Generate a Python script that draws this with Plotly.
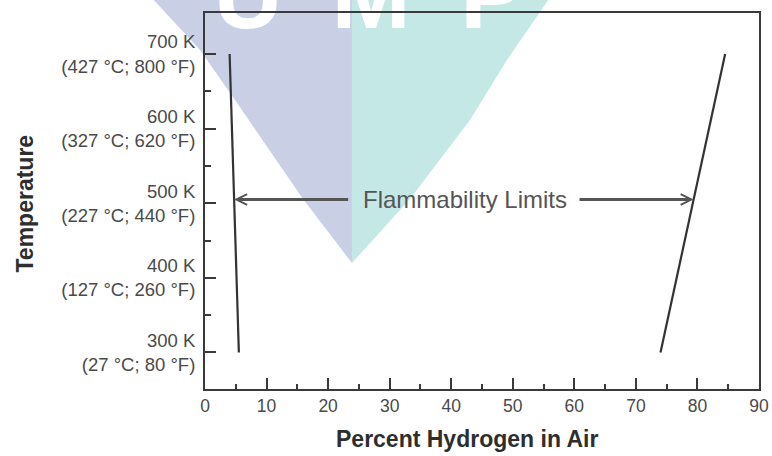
import numpy as np
import plotly.graph_objects as go

# Flammability limits of hydrogen in air (volume %) at two temperatures (K)
temp_k = [300, 700]
lower_limit_pct = [5.5, 4.0]
upper_limit_pct = [74.0, 84.5]

# Axis ticks
x_ticks = list(range(0, 100, 10))
x_minor = list(range(5, 90, 10))
y_ticks = [300, 400, 500, 600, 700]
y_minor = [350, 450, 550, 650]
y_tick_text = [
    "300 K<br>(27 °C; 80 °F)",
    "400 K<br>(127 °C; 260 °F)",
    "500 K<br>(227 °C; 440 °F)",
    "600 K<br>(327 °C; 620 °F)",
    "700 K<br>(427 °C; 800 °F)",
]

# Arrow annotation between the two limits
arrow_level = 505
left_tail, right_tail = 23.5, 60.6
label_x = 42.2
left_tip = float(np.interp(arrow_level, temp_k, lower_limit_pct))
right_tip = float(np.interp(arrow_level, temp_k, upper_limit_pct))

LINE = "#3a3a3a"
TEXT = "#4a4a4a"
FONT = "Liberation Sans"

# Figure geometry (pixels) used to place the background logo
W, H = 772, 456
M_L, M_R, M_T, M_B = 205, 13, 13, 67
PW, PH = W - M_L - M_R, H - M_T - M_B


def px(x):
    return (x - M_L) / PW


def py(y):
    return (H - M_B - y) / PH


def path(points):
    return "M " + " L ".join(f"{px(a):.4f},{py(b):.4f}" for a, b in points) + " Z"


fig = go.Figure()

fig.add_trace(go.Scatter(x=lower_limit_pct, y=temp_k, mode="lines",
                         line=dict(color="#333333", width=2.2), hoverinfo="skip"))
fig.add_trace(go.Scatter(x=upper_limit_pct, y=temp_k, mode="lines",
                         line=dict(color="#333333", width=2.2), hoverinfo="skip"))

# Faint logo behind the plot
shapes = [
    dict(type="path", xref="paper", yref="paper", layer="below",
         path=path([(150, -4), (352, -4), (352, 263), (303, 199), (235, 100), (200, 50)]),
         fillcolor="#c9d0e6", line=dict(width=0)),
    dict(type="path", xref="paper", yref="paper", layer="below",
         path=path([(352, -4), (551, -4), (507, 60), (470, 120), (410, 199), (352, 263)]),
         fillcolor="#c4e8e6", line=dict(width=0)),
]
for letter, cx in [("U", 248), ("M", 371), ("P", 492)]:
    shapes.append(dict(
        type="rect", xref="paper", yref="paper", layer="below",
        x0=px(cx - 60), x1=px(cx + 60), y0=py(39), y1=py(-80),
        line=dict(width=0), fillcolor="rgba(0,0,0,0)",
        label=dict(text=letter, textposition="bottom center", padding=0,
                   font=dict(family=FONT, size=95, color="white", weight="bold")),
    ))

annotations = [
    dict(x=left_tip, y=arrow_level, ax=left_tail, ay=arrow_level,
         xref="x", yref="y", axref="x", ayref="y", text="", showarrow=True,
         arrowhead=5, arrowsize=0.7, arrowwidth=3, arrowcolor="#555555"),
    dict(x=right_tip, y=arrow_level, ax=right_tail, ay=arrow_level,
         xref="x", yref="y", axref="x", ayref="y", text="", showarrow=True,
         arrowhead=5, arrowsize=0.7, arrowwidth=3, arrowcolor="#555555"),
    dict(x=label_x, y=arrow_level, xref="x", yref="y", text="Flammability Limits",
         xanchor="center", yanchor="middle", showarrow=False,
         font=dict(family=FONT, size=24, color="#555555")),
    dict(x=px(466.5), y=py(439), xref="paper", yref="paper",
         xanchor="center", yanchor="middle",
         text="<b>Percent Hydrogen in Air</b>", showarrow=False,
         font=dict(family=FONT, size=23, color="#2e2e2e")),
    dict(x=px(24), y=py(203.5), xref="paper", yref="paper",
         xanchor="center", yanchor="middle",
         text="<b>Temperature</b>", showarrow=False, textangle=-90,
         font=dict(family=FONT, size=23, color="#2e2e2e")),
]

axis_common = dict(
    showline=True, linewidth=2, linecolor=LINE, mirror=True,
    ticks="inside", ticklen=11, tickwidth=2, tickcolor=LINE,
    showgrid=False, zeroline=False, automargin=False,
)

fig.update_layout(
    width=W, height=H,
    margin=dict(l=M_L, r=M_R, t=M_T, b=M_B, autoexpand=False),
    paper_bgcolor="white", plot_bgcolor="rgba(0,0,0,0)",
    showlegend=False,
    shapes=shapes,
    annotations=annotations,
    xaxis=dict(range=[0, 90], tickmode="array", tickvals=x_ticks,
               tickfont=dict(family=FONT, size=17.5, color=TEXT),
               minor=dict(tickmode="array", tickvals=x_minor, ticks="inside",
                          ticklen=5, tickwidth=2, tickcolor=LINE),
               **axis_common),
    yaxis=dict(range=[251, 755], tickmode="array", tickvals=y_ticks,
               ticktext=y_tick_text, ticklabelstandoff=4,
               tickfont=dict(family=FONT, size=18.5, color=TEXT),
               minor=dict(tickmode="array", tickvals=y_minor, ticks="inside",
                          ticklen=6, tickwidth=2, tickcolor=LINE),
               **axis_common),
)

fig.write_html("out.html")
